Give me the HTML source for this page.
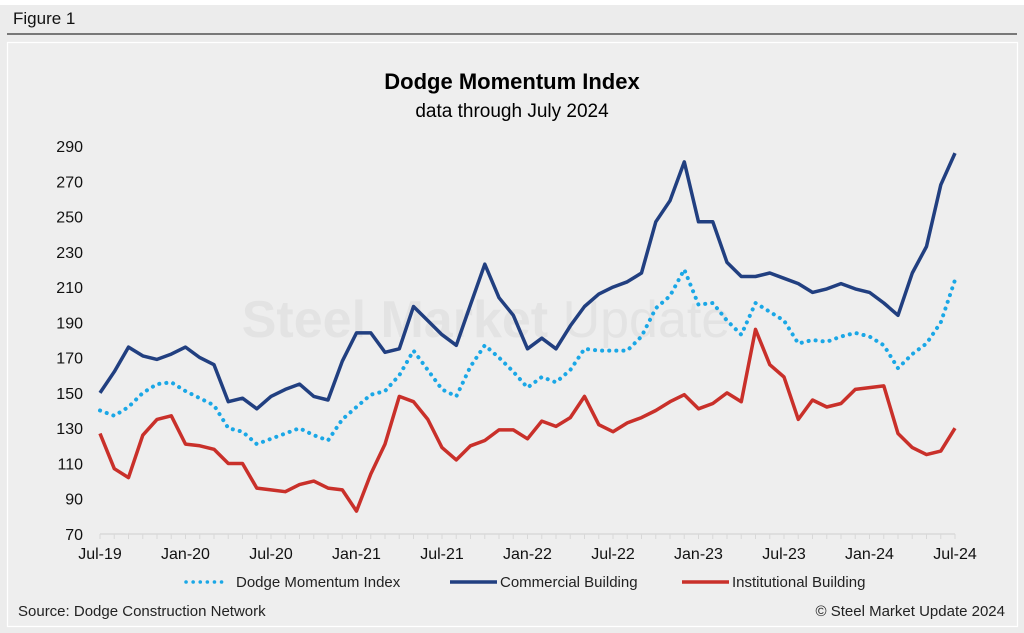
<!DOCTYPE html>
<html><head><meta charset="utf-8">
<style>
html,body{margin:0;padding:0;}
body{width:1024px;height:633px;background:#fff;position:relative;overflow:hidden;font-family:"Liberation Sans",sans-serif;}
#bg{position:absolute;left:0;top:5px;width:1024px;height:628px;background:#ececec;}
</style></head><body>
<div id="bg"></div>
<svg id="chart" width="1024" height="633" style="position:absolute;left:0;top:0" font-family="Liberation Sans, sans-serif">
  <text x="13" y="24" font-size="17" fill="#111">Figure 1</text>
  <line x1="7" y1="34" x2="1017" y2="34" stroke="#333" stroke-width="1.3"/>
  <rect x="7.5" y="42.5" width="1010" height="584" fill="#eeeeee" stroke="#fff" stroke-width="1.2"/>
  <text x="512" y="89" font-size="22" font-weight="bold" text-anchor="middle" fill="#000">Dodge Momentum Index</text>
  <text x="512" y="117" font-size="19" text-anchor="middle" fill="#000">data through July 2024</text>
  <text x="486" y="337" font-size="52" font-weight="bold" text-anchor="middle" fill="#e3e3e3">Steel Market <tspan font-weight="normal">Update</tspan></text>
  <g id="yaxis"></g>
  <g id="xaxis"></g>
  <g id="series"></g>
  <g>
    <g>
      <line x1="186" y1="582" x2="228" y2="582" stroke="#1aa7e6" stroke-width="3.5" stroke-dasharray="0.1 7" stroke-linecap="round"/>
      <text x="236" y="587" font-size="15" fill="#222">Dodge Momentum Index</text>
    </g>
    <g>
      <line x1="450" y1="582" x2="497" y2="582" stroke="#213f80" stroke-width="3.5"/>
      <text x="500" y="587" font-size="15" fill="#222">Commercial Building</text>
    </g>
    <g>
      <line x1="682" y1="582" x2="729" y2="582" stroke="#c9302a" stroke-width="3.5"/>
      <text x="732" y="587" font-size="15" fill="#222">Institutional Building</text>
    </g>
  </g>
  <text x="18" y="616" font-size="15" fill="#222">Source: Dodge Construction Network</text>
  <text x="1005" y="616" font-size="15" fill="#222" text-anchor="end">© Steel Market Update 2024</text>
</svg>
<script>
const yTicks = [70,90,110,130,150,170,190,210,230,250,270,290];
const xTickLabels = ["Jul-19","Jan-20","Jul-20","Jan-21","Jul-21","Jan-22","Jul-22","Jan-23","Jul-23","Jan-24","Jul-24"];
const commercial = [150,162,176,171,169,172, 176,170,166,145,147,141,148,152,155,148,146,168, 184,184,173,175,199,191,183,177,200,223,204,194, 175,181,175,188,199,206,210,213,218,247,259,281, 247,247,224,216,216,218,215,212,207,209,212,209, 207,201,194,218,233,268,286];
const dmi = [140,137,142,150,155,156, 151,147,143,130,128,121,124,127,130,126,123,135, 142,149,151,160,174,163,152,148,165,177,170,162, 153,159,156,163,175,174,174,174,182,198,205,220, 200,201,191,183,201,196,191,178,180,179,182,184, 182,177,164,172,178,190,214];
const institutional = [127,107,102,126,135,137, 121,120,118,110,110,96,95,94,98,100,96,95, 83,104,121,148,145,135,119,112,120,123,129,129, 124,134,131,136,148,132,128,133,136,140,145,149, 141,144,150,145,186,166,159,135,146,142,144,152, 153,154,127,119,115,117,130];

const NS="http://www.w3.org/2000/svg";
const X0=100, X1=955, Y0=534, Y1=146, VMIN=70, VMAX=290, N=commercial.length;
function xs(i){return X0+(X1-X0)*i/(N-1);}
function ys(v){return Y0-(v-VMIN)/(VMAX-VMIN)*(Y0-Y1);}
function mk(tag,attrs,parent){const e=document.createElementNS(NS,tag);for(const k in attrs)e.setAttribute(k,attrs[k]);parent.appendChild(e);return e;}

const ya=document.getElementById('yaxis');
yTicks.forEach(v=>{
  const t=mk('text',{x:83,y:ys(v)+6,'font-size':16,'text-anchor':'end',fill:'#111'},ya);
  t.textContent=v;
  
  
});
const xa=document.getElementById('xaxis');
const ax=mk('line',{x1:X0,y1:Y0,x2:X1,y2:Y0,stroke:'#d8d8d8','stroke-width':1.5},xa);


for(let i=0;i<N;i++){
  const tk=mk('line',{x1:xs(i),y1:Y0,x2:xs(i),y2:Y0+5,stroke:'#d8d8d8','stroke-width':1},xa);
  
  
}
xTickLabels.forEach((l,j)=>{
  const t=mk('text',{x:xs(j*6),y:Y0+25,'font-size':16,'text-anchor':'middle',fill:'#111'},xa);
  t.textContent=l;
  
  
});
const sg=document.getElementById('series');
function pts(arr){return arr.map((v,i)=>xs(i).toFixed(1)+','+ys(v).toFixed(1)).join(' ');}
const lc=mk('polyline',{points:pts(commercial),fill:'none',stroke:'#213f80','stroke-width':3.5,'stroke-linejoin':'round'},sg);


const li=mk('polyline',{points:pts(institutional),fill:'none',stroke:'#c9302a','stroke-width':3.5,'stroke-linejoin':'round'},sg);


const ld=mk('polyline',{points:pts(dmi),fill:'none',stroke:'#1aa7e6','stroke-width':4,'stroke-dasharray':'0.1 7','stroke-linecap':'round','stroke-linejoin':'round'},sg);


</script>
</body></html>
